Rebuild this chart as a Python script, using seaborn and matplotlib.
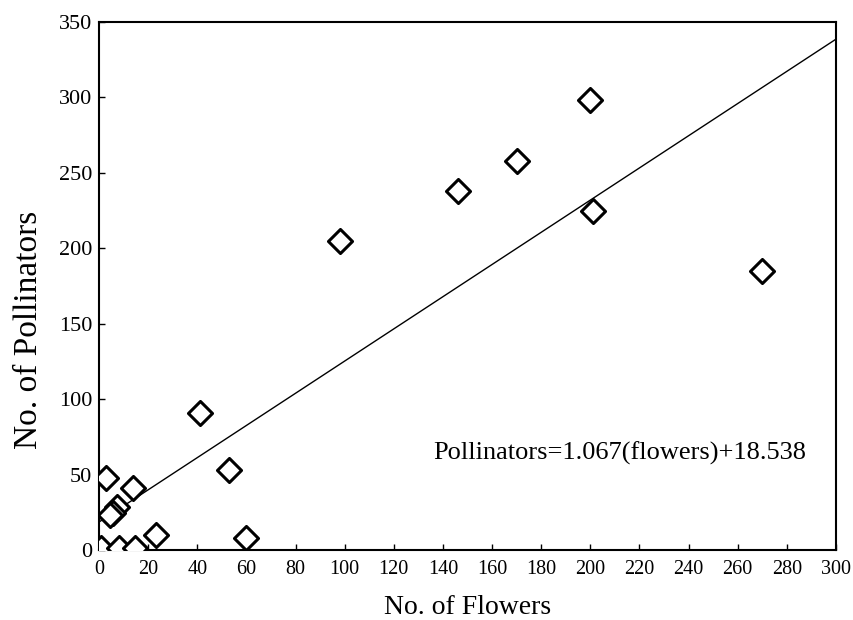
import matplotlib
matplotlib.use("Agg")
import matplotlib.pyplot as plt
import seaborn as sns
import numpy as np
import pandas as pd

# Data
flowers = [200, 201, 170, 146, 98, 270, 41, 53, 60, 23, 14, 3, 7.3, 5.5, 4.5, 1, 8, 14.5]
pollinators = [298, 225, 258, 238, 205, 185, 91, 53, 8, 10, 41, 48, 28.5, 24.5, 23, 1, 1, 1]
slope = 1.067
intercept = 18.538
line_x = [0, 300]
x_ticks = list(range(0, 301, 20))
y_ticks = list(range(0, 351, 50))
equation = "Pollinators=1.067(flowers)+18.538"

df = pd.DataFrame({"flowers": flowers, "pollinators": pollinators})
line_df = pd.DataFrame({"x": line_x, "y": [slope * v + intercept for v in line_x]})

sns.set_theme(style="ticks")
plt.rcParams["font.family"] = ["Liberation Serif", "DejaVu Serif"]
plt.rcParams["text.color"] = "black"
plt.rcParams["axes.labelcolor"] = "black"

fig = plt.figure(figsize=(8.54, 6.2), dpi=100)
ax = fig.add_axes([99 / 854, 1 - 550 / 620, (836 - 99) / 854, (550 - 22) / 620])

sns.lineplot(data=line_df, x="x", y="y", ax=ax, color="black", linewidth=1.0)
sns.scatterplot(data=df, x="flowers", y="pollinators", ax=ax, marker="D",
                s=150, facecolor="white", edgecolor="black", linewidth=2.2, zorder=3)

ax.set_xlim(0, 300)
ax.set_ylim(0, 350)
ax.set_xticks(x_ticks)
ax.set_yticks(y_ticks)
ax.tick_params(direction="in", length=4, width=1, colors="black")
ax.tick_params(axis="x", labelsize=14.5, pad=7)
ax.tick_params(axis="y", labelsize=16, pad=5)
for sp in ax.spines.values():
    sp.set_visible(True)
    sp.set_linewidth(1.5)
    sp.set_color("black")

ax.set_xlabel("No. of Flowers", fontsize=20, color="black")
ax.set_ylabel("No. of Pollinators", fontsize=24, color="black")
ax.xaxis.label.set_va("center")
ax.xaxis.set_label_coords(0.5, (550 - 607) / 528)
ax.yaxis.label.set_va("center")
ax.yaxis.set_label_coords((29 - 99) / 737, (550 - 330) / 528)
ax.text(136, 64, equation, fontsize=19, va="center", ha="left", color="black")

fig.savefig("out.png", dpi=100)
